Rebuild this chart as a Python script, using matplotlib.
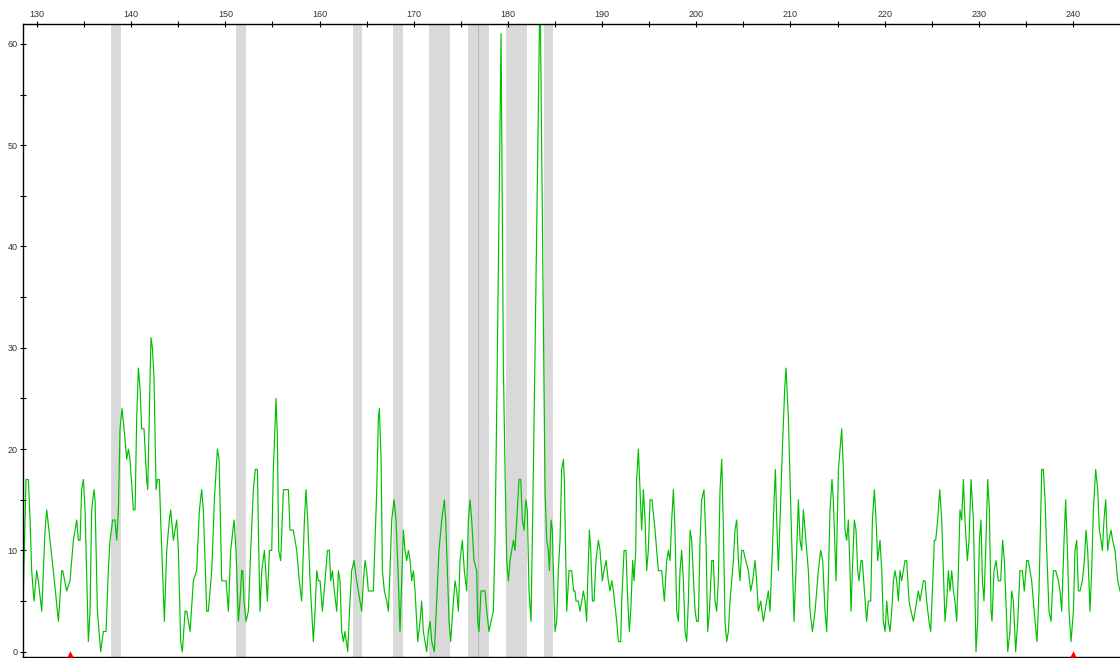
import matplotlib
matplotlib.use("Agg")
import matplotlib.pyplot as plt
from matplotlib.ticker import MultipleLocator, FuncFormatter

# Fragment size (bp) and signal intensity (RFU) of the green dye channel
size_bp = [
    128.51, 128.62, 128.83, 129.08, 129.26, 129.43, 129.68, 129.96, 130.14, 130.50,
    130.85, 131.03, 131.38, 131.73, 132.27, 132.62, 132.73, 133.15, 133.50, 133.86,
    134.21, 134.39, 134.57, 134.74, 134.92, 135.10, 135.45, 135.63, 135.80, 136.05,
    136.16, 136.41, 136.76, 137.04, 137.33, 137.57, 137.75, 138.03, 138.28, 138.46,
    138.64, 138.81, 139.03, 139.34, 139.52, 139.70, 139.87, 140.23, 140.41, 140.58,
    140.76, 140.94, 141.11, 141.36, 141.64, 141.75, 142.00, 142.10, 142.25, 142.42,
    142.64, 142.78, 142.99, 143.13, 143.41, 143.52, 143.77, 144.05, 144.19, 144.48,
    144.65, 144.83, 145.01, 145.25, 145.43, 145.72, 145.89, 146.25, 146.60, 146.95,
    147.24, 147.48, 147.66, 148.02, 148.19, 148.55, 148.83, 149.15, 149.33, 149.61,
    150.07, 150.32, 150.56, 150.92, 151.13, 151.38, 151.55, 151.73, 151.84, 151.98,
    152.19, 152.44, 152.69, 152.97, 153.18, 153.40, 153.54, 153.68, 153.86, 154.14,
    154.28, 154.46, 154.67, 154.92, 155.09, 155.38, 155.52, 155.66, 155.87, 156.16,
    156.69, 156.86, 157.22, 157.57, 157.85,
    158.10, 158.39, 158.56, 158.74, 158.99, 159.34, 159.52, 159.70, 159.87, 160.05,
    160.30, 160.58, 160.83, 161.04, 161.18, 161.36, 161.57, 161.82, 162.00, 162.17,
    162.35, 162.53, 162.70, 162.99, 163.23, 163.41, 163.66, 163.94, 164.47, 164.65,
    164.83, 165.00, 165.18, 165.71, 165.89, 166.07, 166.24, 166.35, 166.53, 166.67,
    166.88, 167.13, 167.30, 167.48, 167.66, 167.91, 168.12, 168.37, 168.54, 168.72,
    168.90, 169.07, 169.25, 169.43, 169.61, 169.78, 169.96, 170.14, 170.42, 170.67,
    170.84, 171.02, 171.37, 171.55, 171.73, 171.91, 172.19, 172.44, 172.68, 172.97,
    173.25, 173.39, 173.60, 173.75, 173.92, 174.21, 174.38, 174.56, 174.74, 174.91,
    175.16, 175.37, 175.62, 175.80, 175.98, 176.15, 176.40, 176.68, 176.79, 176.93,
    177.14, 177.57, 177.75, 177.99, 178.21, 178.45, 178.63, 178.81, 179.27, 179.52,
    179.69, 179.87, 180.05, 180.22, 180.58, 180.75, 180.93, 181.18, 181.36, 181.53,
    181.71, 181.89, 182.06, 182.24, 182.45, 182.59, 182.81, 183.41, 183.94, 184.12,
    184.29, 184.40, 184.58, 184.72, 184.82, 185.00, 185.18, 185.35, 185.53, 185.71,
    185.89, 185.99, 186.24, 186.49, 186.77, 186.98,
    187.12, 187.23, 187.48, 187.66, 187.83, 188.01, 188.19, 188.36, 188.47, 188.65,
    188.79, 188.97, 189.14, 189.35, 189.60, 189.78, 190.03, 190.20, 190.42, 190.66,
    190.84, 191.02, 191.20, 191.55, 191.73, 191.97, 192.08, 192.33, 192.54, 192.68,
    192.89, 193.04, 193.25, 193.39, 193.57, 193.67, 193.85, 194.03, 194.20, 194.38,
    194.56, 194.73, 194.91, 195.09, 195.30, 195.62, 195.97, 196.33, 196.61, 196.86,
    197.04, 197.21, 197.39, 197.57, 197.74, 197.92, 198.10, 198.27, 198.45, 198.63,
    198.81, 198.98, 199.16, 199.34, 199.51, 199.87, 200.04, 200.22, 200.40, 200.57,
    200.82, 201.03, 201.21, 201.39, 201.64, 201.81, 201.99, 202.17, 202.34, 202.52,
    202.70, 202.88, 203.05, 203.23, 203.41, 203.58, 203.94, 204.11, 204.29, 204.47,
    204.64, 204.82, 205.00, 205.25, 205.53, 205.78, 205.99, 206.24, 206.41, 206.59,
    206.84, 207.12, 207.48, 207.65, 207.83, 208.08, 208.26, 208.40, 208.54, 208.72,
    208.89, 209.14, 209.39, 209.53, 209.78, 209.95, 210.13, 210.38, 210.66, 210.84,
    211.02, 211.19, 211.37, 211.55, 211.72, 211.90, 212.08, 212.33, 212.61, 212.96,
    213.21, 213.42, 213.67, 213.85, 214.02, 214.20, 214.41, 214.55, 214.73, 214.84,
    215.09, 215.26, 215.44, 215.62, 215.79, 215.97, 216.15, 216.32,
    216.43, 216.57, 216.78, 216.96, 217.14, 217.28, 217.49, 217.63, 217.85, 218.09,
    218.27, 218.52, 218.70, 218.91, 219.09, 219.26, 219.51, 219.69, 219.86, 220.04,
    220.22, 220.39, 220.57, 220.75, 220.93, 221.10, 221.28, 221.46, 221.63, 221.81,
    221.99, 222.16, 222.34, 222.59, 222.80, 223.05, 223.40, 223.58, 223.76, 223.93,
    224.11, 224.29, 224.46, 224.71, 224.89, 225.07, 225.28, 225.42, 225.63, 225.85,
    226.06, 226.23, 226.41, 226.59, 226.77, 226.94, 227.12, 227.30, 227.47, 227.65,
    227.83, 228.00, 228.18, 228.36, 228.53, 228.78, 228.96, 229.17, 229.42, 229.60,
    229.70, 229.88, 230.06, 230.23, 230.38, 230.55, 230.73, 230.94, 231.12, 231.30,
    231.40, 231.61, 231.83, 232.07, 232.32, 232.53, 232.71, 232.96, 233.07, 233.31,
    233.49, 233.67, 233.91, 234.13, 234.37, 234.62, 234.83, 235.08, 235.26, 235.44,
    235.61, 235.97, 236.18, 236.39, 236.68, 236.85, 237.03, 237.21, 237.45, 237.67,
    237.91, 238.16, 238.45, 238.62, 238.80, 239.05, 239.22, 239.44, 239.58, 239.79,
    240.04, 240.21, 240.39, 240.57, 240.75, 240.99, 241.21, 241.38, 241.56, 241.81,
    241.98, 242.16, 242.41, 242.62, 242.80, 242.98, 243.12, 243.29, 243.47, 243.68,
    243.82, 244.04, 244.21, 244.46, 244.75, 244.99,
]

rfu = [
    4, 9, 17, 17, 13, 8, 5, 8, 7, 4,
    12, 14, 11, 8, 3, 8, 8, 6, 7, 11,
    13, 11, 11, 16, 17, 14, 1, 4, 14, 16,
    15, 4, 0, 2, 2, 8, 11, 13, 13, 11,
    14, 22, 24, 21, 19, 20, 19, 14, 14, 23,
    28, 26, 22, 22, 17, 16, 27, 31, 30, 27,
    16, 17, 17, 13, 6, 3, 10, 13, 14, 11,
    12, 13, 10, 1, 0, 4, 4, 2, 7, 8,
    14, 16, 14, 4, 4, 8, 15, 20, 19, 7,
    7, 4, 10, 13, 10, 3, 5, 8, 8, 5,
    3, 4, 10, 16, 18, 18, 10, 4, 8, 10,
    8, 5, 10, 10, 18, 25, 21, 10, 9, 16,
    16, 12, 12, 10, 7,
    5, 13, 16, 13, 7, 1, 4, 8, 7, 7,
    4, 7, 10, 10, 7, 8, 6, 4, 8, 7,
    2, 1, 2, 0, 5, 8, 9, 7, 4, 7,
    9, 8, 6, 6, 11, 16, 23, 24, 19, 8,
    6, 5, 4, 8, 13, 15, 13, 7, 2, 7,
    12, 10, 9, 10, 9, 7, 8, 6, 1, 3,
    5, 2, 0, 2, 3, 1, 0, 5, 10, 13,
    15, 13, 7, 3, 1, 5, 7, 6, 4, 9,
    11, 8, 6, 13, 15, 13, 9, 8, 3, 2,
    6, 6, 4, 2, 3, 4, 11, 24, 61, 28,
    18, 9, 7, 9, 11, 10, 13, 17, 17, 13,
    12, 15, 14, 6, 3, 11, 25, 66, 16, 11,
    10, 8, 13, 12, 8, 2, 3, 8, 11, 18,
    19, 17, 4, 8, 8, 6,
    6, 5, 5, 4, 5, 6, 5, 3, 7, 12,
    10, 5, 5, 9, 11, 10, 7, 8, 9, 7,
    6, 7, 6, 3, 1, 1, 5, 10, 10, 6,
    2, 4, 9, 7, 10, 17, 20, 16, 12, 16,
    13, 8, 10, 15, 15, 12, 8, 8, 5, 9,
    10, 9, 13, 16, 12, 4, 3, 8, 10, 7,
    2, 1, 5, 12, 11, 4, 3, 3, 11, 15,
    16, 11, 2, 4, 9, 9, 5, 4, 7, 16,
    19, 12, 3, 1, 2, 5, 9, 12, 13, 9,
    7, 10, 10, 9, 8, 6, 7, 9, 7, 4,
    5, 3, 5, 6, 4, 10, 15, 18, 13, 8,
    13, 20, 26, 28, 23, 17, 11, 3, 10, 15,
    11, 10, 14, 12, 10, 8, 4, 2, 4, 8,
    10, 9, 4, 2, 7, 14, 17, 15, 10, 7,
    18, 20, 22, 18, 12, 11, 13, 8,
    4, 8, 13, 12, 8, 7, 9, 9, 6, 3,
    5, 5, 13, 16, 13, 9, 11, 8, 3, 2,
    5, 3, 2, 4, 7, 8, 7, 5, 8, 7,
    8, 9, 9, 5, 4, 3, 5, 6, 5, 6,
    7, 7, 5, 3, 2, 6, 11, 11, 13, 16,
    13, 8, 3, 5, 8, 6, 8, 6, 5, 3,
    8, 14, 13, 17, 13, 9, 11, 17, 13, 5,
    0, 3, 11, 13, 7, 5, 10, 17, 14, 4,
    3, 8, 9, 7, 7, 11, 9, 3, 0, 2,
    6, 5, 0, 3, 8, 8, 6, 9, 9, 8,
    7, 3, 1, 6, 18, 18, 15, 10, 4, 3,
    8, 8, 7, 6, 4, 11, 15, 9, 4, 1,
    4, 10, 11, 6, 6, 7, 9, 12, 10, 4,
    8, 14, 18, 16, 12, 11, 10, 13, 15, 10,
    11, 12, 11, 10, 7, 6,
]

# Size bins (bp) shaded in the background
bins = [
    (137.86, 138.93), (151.13, 152.19), (163.55, 164.51), (167.80, 168.86),
    (171.62, 173.85), (175.73, 176.86), (176.86, 177.96), (179.80, 182.03),
    (183.80, 184.82),
]
bin_boundaries = [176.86]

# Size-standard markers along the baseline
marker_bp = [133.45, 240.02]

x_range = (128.51, 244.99)
y_range = (-0.49, 61.93)

W, H = 1120, 658
fig = plt.figure(figsize=(W / 100, H / 100), dpi=100)
ax = fig.add_axes([23 / W, 1.3 / H, 1 - 23 / W, (656.7 - 24.3) / H])
ax.set_xlim(*x_range)
ax.set_ylim(*y_range)

for lo, hi in bins:
    ax.axvspan(lo, hi, color="#d9d9d9", lw=0, zorder=0)
for b in bin_boundaries:
    ax.axvline(b, color="#b9b9b9", lw=0.8, zorder=0.5)

ax.plot(size_bp, rfu, color="#00c000", lw=0.85, zorder=2)

ax.scatter(marker_bp, [-0.2] * len(marker_bp), marker="^", s=22,
           color="#ff0000", lw=0, zorder=3, clip_on=False)

# Spines: size axis on top, intensity axis on the left
ax.spines["right"].set_visible(False)
for side in ("left", "top", "bottom"):
    ax.spines[side].set_color("black")
    ax.spines[side].set_linewidth(1.0)

ax.xaxis.tick_top()
ax.xaxis.set_major_locator(MultipleLocator(5))
ax.yaxis.set_major_locator(MultipleLocator(5))
every10 = FuncFormatter(lambda v, p: f"{int(round(v))}" if round(v) % 10 == 0 else "")
ax.xaxis.set_major_formatter(every10)
ax.yaxis.set_major_formatter(every10)

tick_font = dict(labelsize=6.5, labelcolor="#333333", length=4.5, width=0.8,
                 direction="inout", color="black")
ax.tick_params(axis="x", which="major", top=True, bottom=False, pad=1.5, **tick_font)
ax.tick_params(axis="y", which="major", left=True, right=False, pad=1.5, **tick_font)
for lab in ax.get_xticklabels() + ax.get_yticklabels():
    lab.set_fontfamily(["Liberation Sans", "DejaVu Sans"])

fig.savefig("out.png", dpi=100)
